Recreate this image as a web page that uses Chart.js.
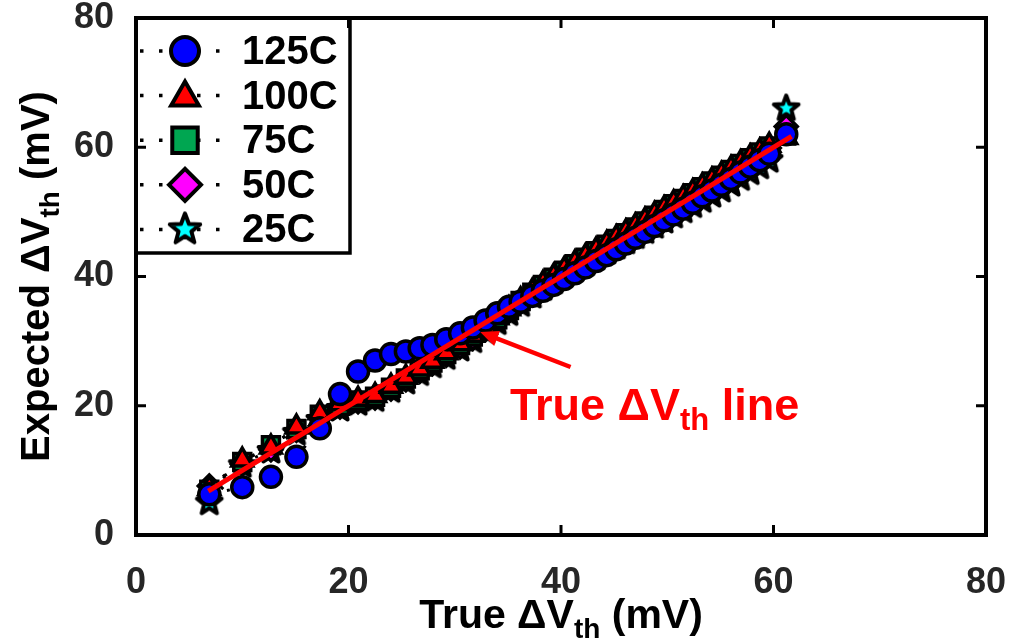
<!DOCTYPE html>
<html>
<head>
<meta charset="utf-8">
<script src="https://cdn.jsdelivr.net/npm/chart.js@4.4.0/dist/chart.umd.min.js"></script>
<style>
  html, body { margin: 0; padding: 0; background: #fff; }
</style>
</head>
<body>
<canvas id="c" width="1018" height="643"></canvas>
<script>
// true dVth (x) shared by all temperature runs, mV
const trueDvth = [6.9, 10.0, 12.7, 15.1, 17.3, 19.2, 20.9, 22.5, 24.0, 25.4, 26.7, 27.9, 29.2, 30.5, 31.7,
  32.9, 34.0, 35.1, 36.2, 37.3, 38.3, 39.3, 40.3, 41.3, 42.3, 43.3, 44.3, 45.2, 46.1, 47.0, 47.9, 48.8,
  49.7, 50.6, 51.5, 52.4, 53.3, 54.2, 55.1, 56.0, 56.9, 57.8, 58.7, 59.6, 61.2];

// expected dVth per temperature, mV
const exp125C = [6.3, 7.4, 9.0, 12.1, 16.5, 21.8, 25.3, 27.0, 28.0, 28.4, 28.9, 29.4, 30.3, 31.2, 32.1,
  33.2, 34.3, 35.3, 36.1, 37.0, 37.8, 38.7, 39.6, 40.5, 41.4, 42.4, 43.3, 44.2, 45.1, 46.0, 46.9, 47.8,
  48.7, 49.6, 50.5, 51.4, 52.4, 53.3, 54.2, 55.1, 56.1, 57.0, 58.0, 59.0, 62.0];
const exp100C = [7.2, 11.6, 13.6, 16.7, 18.9, 20.3, 21.0, 21.6, 23.0, 24.4, 25.7, 26.9, 28.2, 29.6, 30.9,
  32.2, 33.6, 35.0, 36.4, 37.7, 38.9, 40.0, 41.1, 42.1, 43.1, 44.1, 45.1, 46.0, 46.9, 47.8, 48.7, 49.6,
  50.5, 51.4, 52.2, 53.1, 54.0, 54.9, 55.8, 56.7, 57.6, 58.5, 59.4, 60.3, 61.5];
const exp75C = [7.0, 11.3, 13.9, 16.4, 18.6, 20.0, 20.8, 21.4, 22.8, 24.2, 25.5, 26.7, 28.0, 29.4, 30.7,
  32.0, 33.4, 34.8, 36.2, 37.5, 38.7, 39.8, 40.9, 41.9, 42.9, 43.9, 44.9, 45.8, 46.7, 47.6, 48.5, 49.4,
  50.3, 51.2, 52.0, 52.9, 53.8, 54.7, 55.6, 56.5, 57.4, 58.3, 59.2, 60.1, 61.8];
const exp50C = [7.6, 11.0, 13.2, 16.2, 18.2, 19.8, 20.6, 21.2, 22.6, 24.0, 25.3, 26.5, 27.8, 29.1, 30.4,
  31.8, 33.2, 34.6, 36.0, 37.3, 38.5, 39.6, 40.7, 41.7, 42.7, 43.7, 44.7, 45.6, 46.5, 47.4, 48.3, 49.2,
  50.1, 51.0, 51.8, 52.7, 53.6, 54.5, 55.4, 56.3, 57.2, 58.1, 59.0, 59.9, 63.2];
const exp25C = [5.0, 10.8, 13.0, 15.8, 17.8, 19.5, 20.4, 21.0, 22.4, 23.7, 25.0, 26.2, 27.5, 28.8, 30.1,
  31.5, 32.9, 34.3, 35.7, 37.0, 38.2, 39.2, 40.2, 41.1, 42.0, 42.9, 43.8, 44.6, 45.4, 46.2, 47.0, 47.8,
  48.6, 49.4, 50.2, 51.0, 51.8, 52.6, 53.4, 54.3, 55.2, 56.1, 57.0, 58.0, 66.0];

const idealLine = [6.8, 61.7];
const axisTicks = [0, 20, 40, 60, 80];

const FONT = '"Liberation Sans", Arial, sans-serif';

function makeStar(r, fill) {
  const c = document.createElement('canvas');
  const s = Math.ceil(r * 2 + 8);
  c.width = s; c.height = s;
  const g = c.getContext('2d');
  g.beginPath();
  for (let i = 0; i < 10; i++) {
    const a = -Math.PI / 2 + i * Math.PI / 5;
    const rr = i % 2 === 0 ? r : r * 0.42;
    g.lineTo(s / 2 + rr * Math.cos(a), s / 2 + rr * Math.sin(a));
  }
  g.closePath();
  g.fillStyle = fill; g.fill();
  g.lineWidth = 4; g.strokeStyle = '#000'; g.lineJoin = 'round'; g.stroke();
  return c;
}

const star = makeStar(13, '#00ffff');
const starBig = makeStar(16, '#00ffff');

function series(label, ys, color, style, radius, legendStyle, legendRadius) {
  return {
    label: label,
    data: trueDvth.map((x, i) => ({ x: x, y: ys[i] })),
    showLine: true,
    borderColor: '#000',
    borderWidth: 3,
    borderDash: [3, 15],
    pointStyle: style,
    pointRadius: radius,
    pointBackgroundColor: color,
    pointBorderColor: '#000',
    pointBorderWidth: 3.5,
    legendStyle: legendStyle,
    legendRadius: legendRadius,
    order: 1
  };
}

const datasets = [
  series('125C', exp125C, '#0000ff', 'circle', 10.5, 'circle', 14),
  series('100C', exp100C, '#ff0000', 'triangle', 12, 'triangle', 16),
  series('75C', exp75C, '#00a651', 'rect', 12, 'rect', 18),
  series('50C', exp50C, '#ff00ff', 'rectRot', 11, 'rectRot', 16),
  series('25C', exp25C, '#00ffff', star, 13, starBig, 16),
  {
    label: 'ideal',
    data: idealLine.map(v => ({ x: v, y: v })),
    showLine: true,
    borderColor: '#ff0000',
    borderWidth: 5,
    pointRadius: 0,
    order: -1
  }
];

function drawRich(ctx, parts, x, y, align) {
  let total = 0;
  parts.forEach(p => {
    ctx.font = 'bold ' + p.size + 'px ' + FONT;
    p.w = ctx.measureText(p.text).width;
    total += p.w;
  });
  let cx = align === 'center' ? x - total / 2 : x;
  ctx.textAlign = 'left';
  ctx.textBaseline = 'alphabetic';
  parts.forEach(p => {
    ctx.font = 'bold ' + p.size + 'px ' + FONT;
    ctx.fillText(p.text, cx, y + (p.dy || 0));
    cx += p.w;
  });
}

const legendBox = {
  id: 'legendBox',
  afterDatasetsDraw(chart) {
    const ctx = chart.ctx, a = chart.chartArea;
    const left = a.left, top = a.top, w = 214, h = 235;
    ctx.save();
    ctx.fillStyle = '#fff';
    ctx.fillRect(left, top, w, h);
    ctx.lineWidth = 3.5;
    ctx.strokeStyle = '#000';
    ctx.strokeRect(left, top, w, h);
    chart.data.datasets.filter(d => d.legendStyle).forEach((d, i) => {
      const y = top + 33 + i * 44.6;
      ctx.setLineDash([3.5, 15.5]);
      ctx.lineWidth = 3.5;
      ctx.strokeStyle = '#000';
      ctx.beginPath();
      ctx.moveTo(left + 4, y);
      ctx.lineTo(left + 92, y);
      ctx.stroke();
      ctx.setLineDash([]);
      ctx.fillStyle = d.pointBackgroundColor;
      ctx.strokeStyle = '#000';
      ctx.lineWidth = 4;
      Chart.helpers.drawPoint(ctx, { pointStyle: d.legendStyle, radius: d.legendRadius, borderWidth: 4, rotation: 0 }, left + 49, y + (d.legendStyle === 'triangle' ? 2 : 0));
      ctx.fillStyle = '#000';
      ctx.font = 'bold 40px ' + FONT;
      ctx.textAlign = 'left';
      ctx.textBaseline = 'middle';
      ctx.fillText(d.label, left + 106, y + 2);
    });
    ctx.restore();
  }
};

const frame = {
  id: 'frame',
  afterDraw(chart) {
    const ctx = chart.ctx, a = chart.chartArea;
    const xs = chart.scales.x, ys = chart.scales.y;
    ctx.save();
    ctx.strokeStyle = '#000';
    ctx.lineWidth = 3;
    ctx.beginPath();
    axisTicks.forEach(v => {
      const px = xs.getPixelForValue(v);
      ctx.moveTo(px, a.bottom); ctx.lineTo(px, a.bottom - 10);
      ctx.moveTo(px, a.top); ctx.lineTo(px, a.top + 10);
      const py = ys.getPixelForValue(v);
      ctx.moveTo(a.left, py); ctx.lineTo(a.left + 10, py);
      ctx.moveTo(a.right, py); ctx.lineTo(a.right - 10, py);
    });
    ctx.stroke();
    ctx.lineWidth = 4;
    ctx.strokeRect(a.left, a.top, a.right - a.left, a.bottom - a.top);

    // annotation: arrow + label for the ideal line
    const tip = { x: xs.getPixelForValue(32.4), y: ys.getPixelForValue(31.4) };
    const tail = { x: xs.getPixelForValue(40.9), y: ys.getPixelForValue(26.0) };
    const ang = Math.atan2(tip.y - tail.y, tip.x - tail.x);
    ctx.strokeStyle = '#ff0000';
    ctx.fillStyle = '#ff0000';
    ctx.lineWidth = 4.5;
    ctx.beginPath();
    ctx.moveTo(tail.x, tail.y);
    ctx.lineTo(tip.x - 12 * Math.cos(ang), tip.y - 12 * Math.sin(ang));
    ctx.stroke();
    ctx.beginPath();
    ctx.moveTo(tip.x, tip.y);
    ctx.lineTo(tip.x - 18 * Math.cos(ang) + 8 * Math.sin(ang), tip.y - 18 * Math.sin(ang) - 8 * Math.cos(ang));
    ctx.lineTo(tip.x - 18 * Math.cos(ang) - 8 * Math.sin(ang), tip.y - 18 * Math.sin(ang) + 8 * Math.cos(ang));
    ctx.closePath();
    ctx.fill();
    drawRich(ctx, [
      { text: 'True \u0394V', size: 45 },
      { text: 'th', size: 31, dy: 10 },
      { text: ' line', size: 45 }
    ], xs.getPixelForValue(35.2), ys.getPixelForValue(17.8), 'left');

    // axis titles
    ctx.fillStyle = '#000';
    drawRich(ctx, [
      { text: 'True \u0394V', size: 41 },
      { text: 'th', size: 28, dy: 10 },
      { text: ' (mV)', size: 41 }
    ], (a.left + a.right) / 2, 628, 'center');
    ctx.save();
    ctx.translate(49, (a.top + a.bottom) / 2);
    ctx.rotate(-Math.PI / 2);
    drawRich(ctx, [
      { text: 'Expected \u0394V', size: 40 },
      { text: 'th', size: 28, dy: 10 },
      { text: ' (mV)', size: 40 }
    ], 0, 0, 'center');
    ctx.restore();
    ctx.restore();
  }
};

const tickFont = { family: FONT, weight: 'bold', size: 36 };

new Chart(document.getElementById('c').getContext('2d'), {
  type: 'scatter',
  data: { datasets: datasets },
  options: {
    responsive: false,
    animation: false,
    devicePixelRatio: 1,
    layout: { padding: { top: 18, right: 32, left: 0, bottom: 0 } },
    plugins: { legend: { display: false }, tooltip: { enabled: false } },
    scales: {
      x: {
        type: 'linear', min: 0, max: 80,
        afterFit: s => { s.height = 108; s.paddingLeft = 0; s.paddingRight = 0; },
        afterBuildTicks: s => { s.ticks = axisTicks.map(v => ({ value: v })); },
        grid: { display: false },
        border: { display: false },
        ticks: { font: tickFont, color: '#262626', padding: 18, maxRotation: 0 }
      },
      y: {
        type: 'linear', min: 0, max: 80,
        afterFit: s => { s.width = 136; s.paddingTop = 0; s.paddingBottom = 0; },
        afterBuildTicks: s => { s.ticks = axisTicks.map(v => ({ value: v })); },
        grid: { display: false },
        border: { display: false },
        ticks: { font: tickFont, color: '#262626', padding: 14 }
      }
    }
  },
  plugins: [legendBox, frame]
});
</script>
</body>
</html>
